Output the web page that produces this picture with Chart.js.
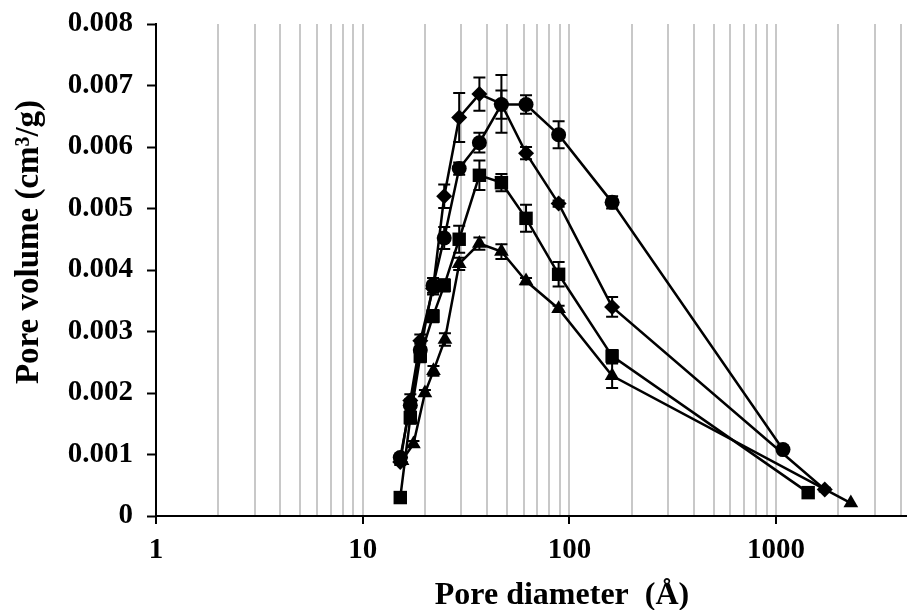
<!DOCTYPE html>
<html>
<head>
<meta charset="utf-8">
<script src="https://cdn.jsdelivr.net/npm/chart.js@4.4.1/dist/chart.umd.min.js"></script>
<style>
  body { margin: 0; background: #fff; }
  #wrap { width: 907px; height: 610px; }
</style>
</head>
<body>
<div id="wrap"><canvas id="poreChart" width="907" height="610"></canvas></div>
<script>
// Dados (diâmetro em Å, volume em cm3/g)
const circleX = [15.2, 17.0, 19.0, 21.9, 24.8, 29.3, 36.7, 46.9, 61.7, 88.7, 161, 1080];
const circleY = [0.00095, 0.0018, 0.0027, 0.00375, 0.00452, 0.00565, 0.00607, 0.00669, 0.00669, 0.0062, 0.0051, 0.00108];
const circleErr = [0.00005, 0.0001, 0.0001, 0.00012, 0.00018, 0.0001, 0.00016, 0.00023, 0.00015, 0.00022, 0.0001, 0.00005];

const diamondX = [15.2, 17.0, 19.0, 21.9, 24.8, 29.3, 36.7, 46.9, 61.7, 88.7, 161, 1720];
const diamondY = [0.00088, 0.00188, 0.00285, 0.0037, 0.0052, 0.00648, 0.00686, 0.0067, 0.0059, 0.00508, 0.0034, 0.00043];
const diamondErr = [0.00005, 0.0001, 0.0001, 0.0001, 0.00019, 0.0004, 0.00027, 0.00047, 0.0001, 0.00005, 0.00016, 0.00003];

const squareX = [15.2, 17.0, 19.0, 21.9, 24.8, 29.3, 36.7, 46.9, 61.7, 88.7, 161, 1430];
const squareY = [0.0003, 0.0016, 0.0026, 0.00325, 0.00375, 0.0045, 0.00554, 0.00542, 0.00484, 0.00393, 0.0026, 0.00038];
const squareErr = [0, 0.0001, 0.0001, 0.0001, 0.0001, 0.00022, 0.00024, 0.00014, 0.00022, 0.0002, 0.0001, 0];

const triangleX = [15.5, 17.6, 20.0, 22.0, 25.0, 29.3, 36.7, 46.9, 61.7, 88.7, 161, 2300];
const triangleY = [0.0009, 0.00117, 0.002, 0.00236, 0.00287, 0.0041, 0.00443, 0.0043, 0.00382, 0.00337, 0.00228, 0.00021];
const triangleErr = [0.00005, 0.00005, 0.00005, 0.00008, 0.0001, 0.0001, 0.0001, 0.00012, 0.00005, 0.00005, 0.0002, 0];

// Marcas do eixo x (log) e do eixo y
const xTicks = [1, 2, 3, 4, 5, 6, 7, 8, 9, 10, 20, 30, 40, 50, 60, 70, 80, 90,
  100, 200, 300, 400, 500, 600, 700, 800, 900, 1000, 2000, 3000, 4000];
const xLabels = [1, 10, 100, 1000];
const xMin = 1;
const xMax = 4300;
const yTicks = [0, 0.001, 0.002, 0.003, 0.004, 0.005, 0.006, 0.007, 0.008];

const xTitle = 'Pore diameter  (Å)';
const yTitle = 'Pore volume (cm³/g)';

function toPoints(xs, ys, errs) {
  return xs.map((x, i) => ({ x: x, y: ys[i], err: errs[i] }));
}

function makeSeries(label, xs, ys, errs, style, radius) {
  return {
    label: label,
    data: toPoints(xs, ys, errs),
    showLine: true,
    borderColor: '#000',
    borderWidth: 2.5,
    backgroundColor: '#000',
    pointStyle: style,
    pointRadius: radius,
    pointBorderWidth: 0,
    pointBackgroundColor: '#000'
  };
}

// Barras de erro desenhadas pelas escalas do gráfico
const errorBars = {
  id: 'errorBars',
  beforeDatasetsDraw(chart) {
    const ctx = chart.ctx;
    const xs = chart.scales.x;
    const ys = chart.scales.y;
    ctx.save();
    ctx.strokeStyle = '#000';
    ctx.lineWidth = 2;
    chart.data.datasets.forEach(ds => {
      ds.data.forEach(p => {
        if (!p.err) return;
        const px = xs.getPixelForValue(p.x);
        const top = ys.getPixelForValue(p.y + p.err);
        const bot = ys.getPixelForValue(p.y - p.err);
        ctx.beginPath();
        ctx.moveTo(px, top); ctx.lineTo(px, bot);
        ctx.moveTo(px - 6, top); ctx.lineTo(px + 6, top);
        ctx.moveTo(px - 6, bot); ctx.lineTo(px + 6, bot);
        ctx.stroke();
      });
    });
    ctx.restore();
  }
};

// Títulos dos eixos (posição deslocada como no original)
const axisTitles = {
  id: 'axisTitles',
  afterDraw(chart) {
    const ctx = chart.ctx;
    const area = chart.chartArea;
    ctx.save();
    ctx.fillStyle = '#000';
    ctx.textAlign = 'center';
    ctx.textBaseline = 'alphabetic';
    ctx.font = 'bold 32px "Liberation Serif"';
    ctx.fillText(xTitle, 562, 604);
    ctx.translate(38, (area.top + area.bottom) / 2 - 28);
    ctx.rotate(-Math.PI / 2);
    ctx.font = 'bold 33px "Liberation Serif"';
    ctx.fillText(yTitle, 0, 0);
    ctx.restore();
  }
};

const tickFont = { family: 'Liberation Serif', size: 29, weight: 'bold' };

new Chart(document.getElementById('poreChart'), {
  type: 'scatter',
  data: {
    datasets: [
      makeSeries('A', circleX, circleY, circleErr, 'circle', 7.5),
      makeSeries('B', diamondX, diamondY, diamondErr, 'rectRot', 8),
      makeSeries('C', squareX, squareY, squareErr, 'rect', 9.5),
      makeSeries('D', triangleX, triangleY, triangleErr, 'triangle', 8.5)
    ]
  },
  options: {
    responsive: false,
    animation: false,
    devicePixelRatio: 1,
    layout: { autoPadding: false, padding: { top: 24, right: -7, left: 0, bottom: 0 } },
    plugins: { legend: { display: false }, tooltip: { enabled: false } },
    scales: {
      x: {
        type: 'logarithmic',
        bounds: 'data',
        min: xMin,
        max: xMax,
        afterBuildTicks: scale => {
          scale.ticks = xTicks.map(v => ({ value: v }));
          scale.min = xMin;
          scale.max = xMax;
        },
        afterFit: scale => {
          scale.height = 94;
          scale.paddingLeft = 0;
          scale.paddingRight = 0;
        },
        border: { display: true, color: '#000', width: 2 },
        grid: {
          color: '#c8c8c8',
          lineWidth: 2,
          drawTicks: true,
          tickLength: 8,
          tickColor: ctx => xLabels.includes(ctx.tick.value) ? '#000' : 'rgba(0,0,0,0)',
          tickWidth: 2
        },
        ticks: {
          autoSkip: false,
          maxRotation: 0,
          padding: 9,
          color: '#000',
          font: tickFont,
          callback: v => xLabels.includes(v) ? String(v) : ''
        },
        title: { display: false }
      },
      y: {
        min: 0,
        max: 0.008,
        afterBuildTicks: scale => { scale.ticks = yTicks.map(v => ({ value: v })); },
        afterFit: scale => {
          scale.width = 156;
          scale.paddingTop = 0;
          scale.paddingBottom = 0;
        },
        border: { display: true, color: '#000', width: 2 },
        grid: {
          drawOnChartArea: false,
          drawTicks: true,
          tickLength: 9,
          tickColor: '#000',
          tickWidth: 2
        },
        ticks: {
          padding: 14,
          color: '#000',
          font: tickFont,
          callback: v => v === 0 ? '0' : v.toFixed(3)
        },
        title: { display: false }
      }
    }
  },
  plugins: [errorBars, axisTitles]
});
</script>
</body>
</html>
